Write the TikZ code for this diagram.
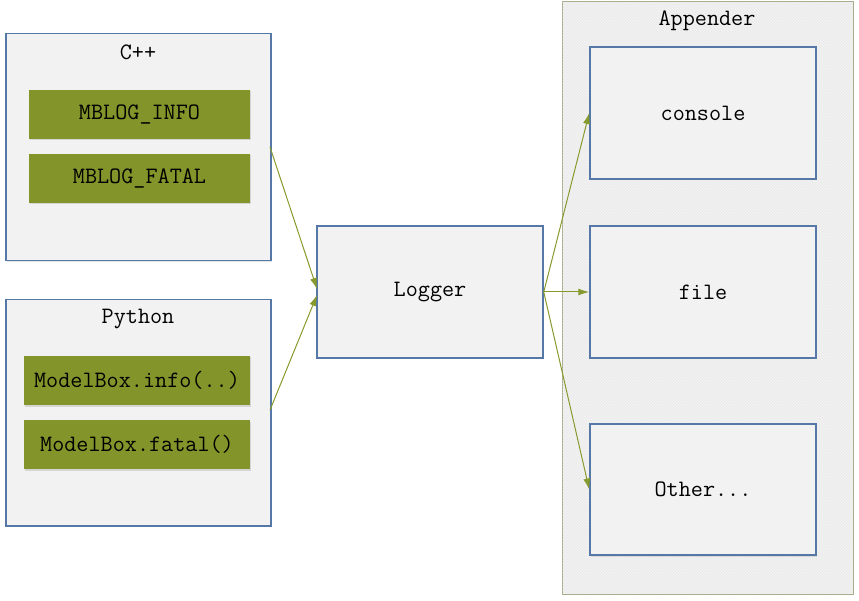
\documentclass[tikz,border=0pt]{standalone}
\usetikzlibrary{arrows.meta,shadows,patterns}
\definecolor{boxfill}{RGB}{242,242,242}
\definecolor{boxline}{RGB}{86,120,166}
\definecolor{greenfill}{RGB}{130,148,42}
\definecolor{arrowcol}{RGB}{135,154,46}
\definecolor{appline}{RGB}{166,174,140}
\definecolor{hatchcol}{RGB}{233,233,233}
\tikzset{
  container/.style={draw=boxline, line width=1.5pt, fill=boxfill, anchor=north west, inner sep=0pt,
    drop shadow={opacity=0.2, shadow xshift=1pt, shadow yshift=-1.5pt}},
  greenbox/.style={fill=greenfill, anchor=center, inner sep=0pt, minimum width=221pt, minimum height=49pt,
    font=\fontsize{23.5}{27}\selectfont\ttfamily, text=black,
    drop shadow={opacity=0.25, shadow xshift=1pt, shadow yshift=-1.5pt}},
  whitebox/.style={draw=boxline, line width=1.5pt, fill=boxfill, inner sep=0pt, minimum width=226pt, minimum height=132pt,
    font=\fontsize{23.5}{27}\selectfont\ttfamily,
    drop shadow={opacity=0.2, shadow xshift=1pt, shadow yshift=-1.5pt}},
  titletext/.style={font=\fontsize{23.5}{27}\selectfont\ttfamily, inner sep=0pt},
  flow/.style={draw=arrowcol, line width=1pt, -{Latex[length=11pt,width=7pt]}}
}
\begin{document}
\begin{tikzpicture}[x=1pt,y=-1pt]
\useasboundingbox (0,0) rectangle (859,601);
\fill[white] (0,0) rectangle (859,601);
% Appender container
\node[draw=appline, line width=1pt, fill=boxfill, minimum width=291pt, minimum height=592pt, inner sep=0pt] (app) at (707.5,298) {};
\fill[pattern=north west lines, pattern color=hatchcol] (562.5,2.5) rectangle (852.5,593.5);
\node[titletext] (apptitle) at (707,21) {Appender};
% C++ container
\node[container, minimum width=265pt, minimum height=227pt] (cpp) at (5,33) {};
\node[titletext] (cpptitle) at (138,52) {C++};
\node[greenbox] (info) at (139.5,114.5) {MBLOG\_INFO};
\node[greenbox] (fatal) at (139.5,178.5) {MBLOG\_FATAL};
% Python container
\node[container, minimum width=265pt, minimum height=226pt] (py) at (5,299) {};
\node[titletext] (pytitle) at (138,319) {Python};
\node[greenbox, minimum width=226pt] (pinfo) at (137,380.5) {ModelBox.info(..)};
\node[greenbox, minimum width=226pt] (pfatal) at (137,444.5) {ModelBox.fatal()};
% Logger
\node[whitebox] (logger) at (430,292) {Logger};
% Appenders
\node[whitebox] (console) at (703,113) {console};
\node[whitebox] (file) at (703,292) {file};
\node[whitebox, minimum height=131pt] (other) at (703,489.5) {Other...};
% connectors
\coordinate (cppout) at (270,147);
\coordinate (pyout) at (270,410);
\coordinate (login1) at (317,289);
\coordinate (login2) at (317,295);
\draw[flow] (cppout) -- (login1);
\draw[flow] (pyout) -- (login2);
\draw[flow] (logger.east) -- (console.west);
\draw[flow] (logger.east) -- (file.west);
\draw[flow] (logger.east) -- (other.west);
\end{tikzpicture}
\end{document}
